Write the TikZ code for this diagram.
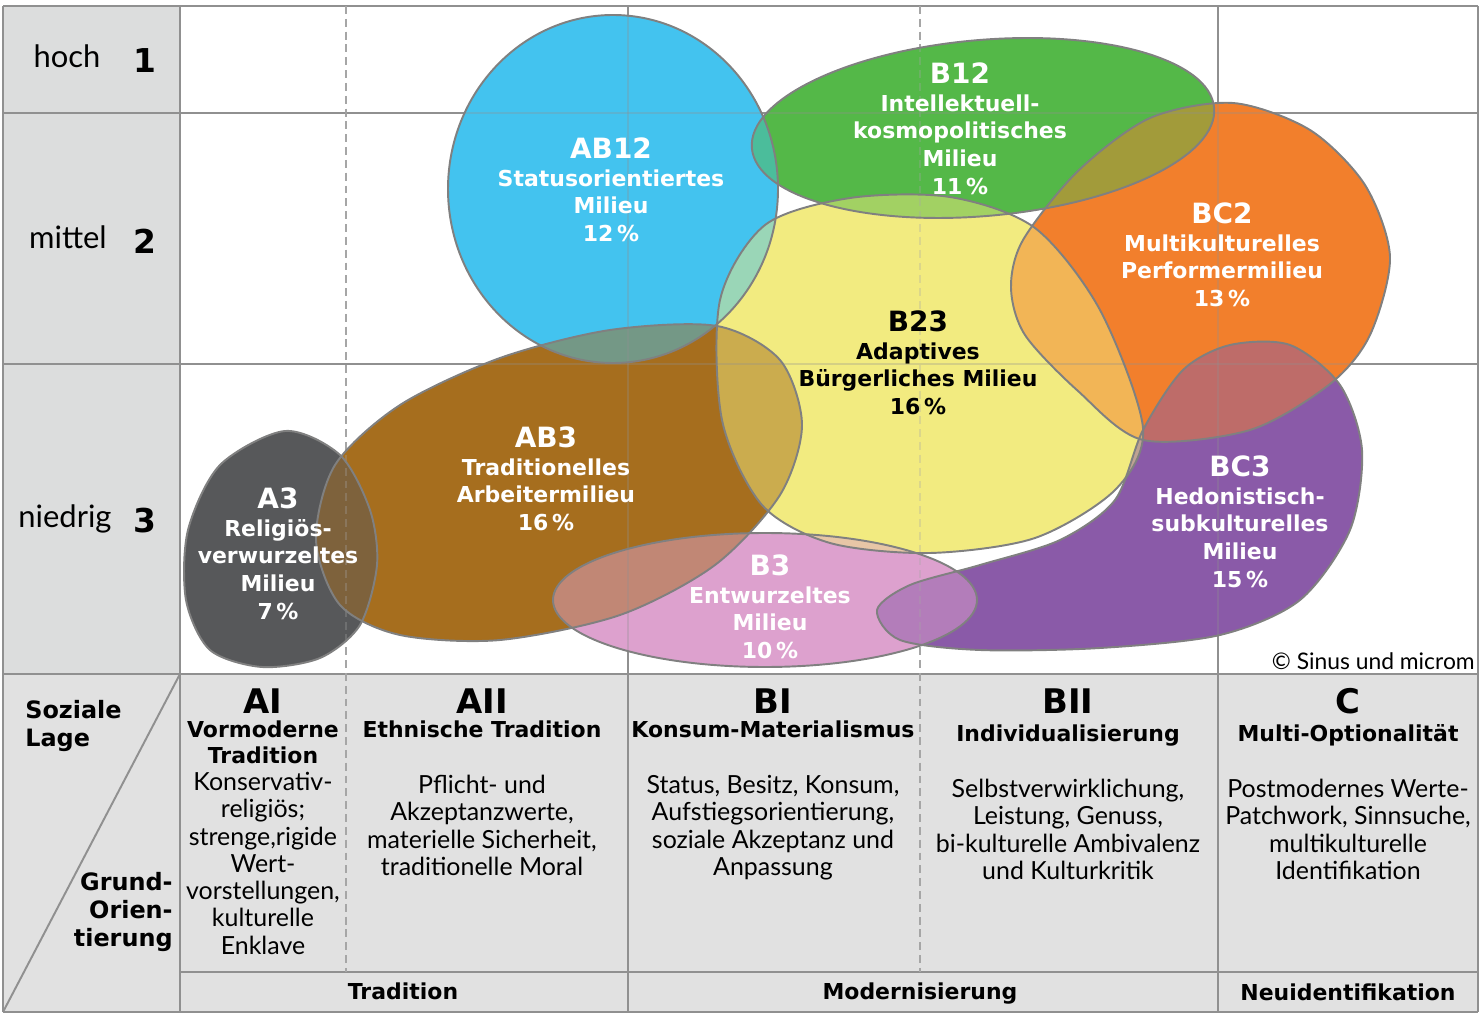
\documentclass[tikz,border=0pt]{standalone}
\usepackage{fontspec}
\setmainfont{Lato}
\newfontfamily\fettschrift{DejaVu Sans}
\usetikzlibrary{positioning}

\definecolor{spalte}{HTML}{DCDDDD}
\definecolor{tabelle}{HTML}{E1E1E1}
\definecolor{linie}{HTML}{909090}
\definecolor{umrisslinie}{HTML}{808080}
\definecolor{colAdrei}{HTML}{57585A}
\definecolor{colABdrei}{HTML}{A66E1E}
\definecolor{colABeinszwei}{HTML}{43C3EF}
\definecolor{colBeinszwei}{HTML}{54B848}
\definecolor{colBCzwei}{HTML}{F27F2C}
\definecolor{colBzweidrei}{HTML}{F2EB80}
\definecolor{colBCdrei}{HTML}{8A5AA8}
\definecolor{colBdrei}{HTML}{DDA1CE}

\newcommand\mtitel[1]{{\fontsize{15.9}{15.9}\selectfont #1}}

\tikzset{
  gitter/.style={line width=1.1pt, draw=linie},
  strich/.style={line width=.8pt, draw=linie!80, dash pattern=on 4.5pt off 2.8pt},
  umriss/.style={line width=1.1pt, draw=umrisslinie},
  milieu/.style={align=center, inner sep=0pt, anchor=north, text=white,
    font=\fettschrift\bfseries\fontsize{12.5}{15.9}\selectfont},
  zeile/.style={inner sep=0pt, anchor=base, font=\fontsize{17.6}{20}\selectfont},
  zahl/.style={inner sep=0pt, anchor=base, font=\fettschrift\bfseries\fontsize{18.7}{20}\selectfont},
  kopf/.style={inner sep=0pt, anchor=base, font=\fettschrift\bfseries\fontsize{19.3}{20}\selectfont},
  unterkopf/.style={inner sep=0pt, anchor=north, align=center,
    font=\fettschrift\bfseries\fontsize{12.5}{14.8}\selectfont},
  inhalt/.style={inner sep=0pt, anchor=north, align=center,
    font=\fontsize{14.2}{15.5}\selectfont},
  achse/.style={inner sep=0pt, font=\fettschrift\bfseries\fontsize{13.6}{15.9}\selectfont},
  band/.style={inner sep=0pt, anchor=base, font=\fettschrift\bfseries\fontsize{12.5}{14}\selectfont},
  % Umrisse der Milieus
  pAdrei/.style={insert path={plot[smooth cycle] coordinates {(285,431) (340,455) (370,510)
    (377,565) (360,625) (320,658) (262,667) (210,650) (186,600) (188,530) (220,465)}}},
  pABdrei/.style={insert path={plot[smooth cycle] coordinates {(316,540) (335,465) (400,405)
    (500,358) (610,330) (717,326) (780,360) (802,425) (780,495) (715,565) (620,615)
    (500,640) (400,635) (340,605)}}},
  pABeinszwei/.style={insert path={(613,189) ellipse [x radius=165, y radius=174]}},
  pBeinszwei/.style={insert path={(983,128) ellipse [x radius=232, y radius=88, rotate=5]}},
  pBzweidrei/.style={insert path={plot[smooth cycle] coordinates {(720,300) (765,225) (850,198)
    (950,197) (1035,228) (1100,310) (1143,428) (1115,490) (1035,538) (930,553) (830,543)
    (762,505) (722,420)}}},
  pBCzwei/.style={insert path={plot[smooth cycle] coordinates {(1011,288) (1023,240) (1078,171)
    (1150,118) (1233,103) (1310,130) (1365,185) (1390,257) (1370,335) (1330,384)
    (1250,430) (1143,440) (1078,391) (1025,335)}}},
  pBCdrei/.style={insert path={plot[smooth cycle] coordinates {(1143,430) (1183,370) (1230,345)
    (1290,345) (1340,385) (1362,450) (1350,530) (1300,600) (1220,635) (1100,648)
    (980,650) (900,640) (877,610) (910,585) (980,565) (1060,540) (1115,500)}}},
  pBdrei/.style={insert path={(765,600) ellipse [x radius=212, y radius=67]}}
}

\begin{document}
\begin{tikzpicture}[x=0.02cm, y=-0.02cm]
\useasboundingbox (0,0) rectangle (1480,1016);

%Hintergrund
\fill[tabelle] (3,674) rectangle (1478,1012);
\fill[spalte] (3,6) rectangle (180,674);

%Gitter
\foreach \y in {6,113,364,674,1012} \draw[gitter] (3,\y) -- (1478,\y);
\draw[gitter] (180,972) -- (1478,972);
\foreach \x in {3,180,628,1218,1478} \draw[gitter] (\x,6) -- (\x,1012);
\foreach \x in {346,920} \draw[strich] (\x,6) -- (\x,972);
\draw[gitter] (180,674) -- (3,1012);

%Milieus: erst deckend, dann rueckwaerts halbtransparent (Ueberlappungen)
\foreach \form/\farbe in {pAdrei/colAdrei, pABdrei/colABdrei, pABeinszwei/colABeinszwei,
  pBeinszwei/colBeinszwei, pBzweidrei/colBzweidrei, pBCzwei/colBCzwei,
  pBCdrei/colBCdrei, pBdrei/colBdrei}
  \fill[\farbe, \form];
\foreach \form/\farbe in {pBdrei/colBdrei, pBCdrei/colBCdrei, pBCzwei/colBCzwei,
  pBzweidrei/colBzweidrei, pBeinszwei/colBeinszwei, pABeinszwei/colABeinszwei,
  pABdrei/colABdrei, pAdrei/colAdrei}
  \fill[\farbe, fill opacity=.5, \form];

%Gitter schwach durchscheinend
\foreach \x in {628,1218} \draw[gitter, draw opacity=.3] (\x,6) -- (\x,674);
\foreach \x in {346,920} \draw[strich, draw opacity=.3] (\x,6) -- (\x,674);
\foreach \y in {113,364} \draw[gitter, draw opacity=.3] (180,\y) -- (1478,\y);

%Umrisse
\foreach \form in {pAdrei, pABdrei, pABeinszwei, pBeinszwei, pBzweidrei, pBCzwei, pBCdrei, pBdrei}
  \draw[umriss, \form];

%Soziale Lage
\node[zeile] (hoch) at (67,68) {hoch};
\node[zeile] (mittel) at (68,249) {mittel};
\node[zeile] (niedrig) at (65,527) {niedrig};
\node[zahl] (eins) at (145,73) {1};
\node[zahl] (zwei) at (145,254) {2};
\node[zahl] (drei) at (145,532) {3};

%Milieu-Beschriftungen
\node[milieu] (ABeinszwei) at (611,137) {\mtitel{AB12}\\Statusorientiertes\\Milieu\\12\,\%};
\node[milieu] (Beinszwei) at (960,62) {\mtitel{B12}\\Intellektuell-\\kosmopolitisches\\Milieu\\11\,\%};
\node[milieu] (BCzwei) at (1222,202) {\mtitel{BC2}\\Multikulturelles\\Performermilieu\\13\,\%};
\node[milieu, text=black] (Bzweidrei) at (918,310) {\mtitel{B23}\\Adaptives\\Bürgerliches Milieu\\16\,\%};
\node[milieu] (ABdrei) at (546,426) {\mtitel{AB3}\\Traditionelles\\Arbeitermilieu\\16\,\%};
\node[milieu] (Adrei) at (278,487) {\mtitel{A3}\\Religiös-\\verwurzeltes\\Milieu\\7\,\%};
\node[milieu] (Bdrei) at (770,554) {\mtitel{B3}\\Entwurzeltes\\Milieu\\10\,\%};
\node[milieu] (BCdrei) at (1240,455) {\mtitel{BC3}\\Hedonistisch-\\subkulturelles\\Milieu\\15\,\%};

\node[inner sep=0pt, anchor=base east, font=\fontsize{13}{15}\selectfont] (copy) at (1475,669) {© Sinus und microm};

%Grundorientierung
\node[achse, anchor=north west, align=left] (sozial) at (25,700) {Soziale\\Lage};
\node[achse, anchor=north east, align=right] (grund) at (173,872) {Grund-\\Orien-\\tierung};

\node[kopf] (AI) at (263,713) {AI};
\node[kopf] (AII) at (482,713) {AII};
\node[kopf] (BI) at (773,713) {BI};
\node[kopf] (BII) at (1068,713) {BII};
\node[kopf] (C) at (1348,713) {C};

\node[unterkopf] (AIu) at (263,720) {Vormoderne\\Tradition};
\node[unterkopf] (AIIu) at (482,720) {Ethnische Tradition};
\node[unterkopf] (BIu) at (773,720) {Konsum-Materialismus};
\node[unterkopf] (BIIu) at (1068,724) {Individualisierung};
\node[unterkopf] (Cu) at (1348,724) {Multi-Optionalität};

\node[inhalt] (AIt) at (263,772) {Konservativ-\\religiös;\\strenge,rigide\\Wert-\\vorstellungen,\\kulturelle\\Enklave};
\node[inhalt] (AIIt) at (482,775) {Pflicht- und\\Akzeptanzwerte,\\materielle Sicherheit,\\traditionelle Moral};
\node[inhalt] (BIt) at (773,775) {Status, Besitz, Konsum,\\Aufstiegsorientierung,\\soziale Akzeptanz und\\Anpassung};
\node[inhalt] (BIIt) at (1068,779) {Selbstverwirklichung,\\Leistung, Genuss,\\bi-kulturelle Ambivalenz\\und Kulturkritik};
\node[inhalt] (Ct) at (1348,779) {Postmodernes Werte-\\Patchwork, Sinnsuche,\\multikulturelle\\Identifikation};

\node[band] (tradition) at (403,999) {Tradition};
\node[band] (modern) at (920,999) {Modernisierung};
\node[band] (neu) at (1348,1000) {Neuidentifikation};
\end{tikzpicture}
\end{document}
